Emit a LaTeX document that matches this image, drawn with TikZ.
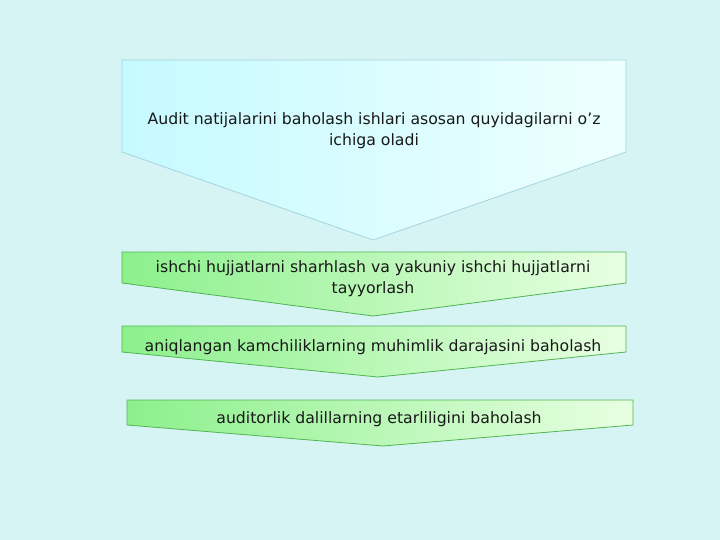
\documentclass[tikz,border=0pt]{standalone}
\usepackage{fontspec}
\setmainfont{DejaVu Sans}
\definecolor{bgcyan}{RGB}{214,244,244}
\definecolor{cyanleft}{RGB}{198,250,255}
\definecolor{cyanright}{RGB}{238,255,255}
\definecolor{cyanline}{RGB}{165,212,222}
\definecolor{greenleft}{RGB}{140,240,140}
\definecolor{greenright}{RGB}{232,255,226}
\definecolor{greenline}{RGB}{80,180,80}

\tikzset{%
  % Specifications for style of the arrow boxes:
        headbox/.style = {left color=cyanleft, right color=cyanright, draw=cyanline, line width=0.8pt},
        stepbox/.style = {left color=greenleft, right color=greenright, draw=greenline, line width=0.8pt},
       steptext/.style = {font=\fontsize{15.7}{21}\selectfont, text=black!90, align=center, inner sep=0pt},
}

\begin{document}
\begin{tikzpicture}[x=1pt, y=-1pt]
    % Background
    \fill[bgcyan] (0,0) rectangle (720,540);
    \useasboundingbox (0,0) rectangle (720,540);

    % Draw arrow boxes
    \shadedraw[headbox] (122,60) -- (626,60) -- (626,152) -- (373,240) -- (122,152) -- cycle;
    \shadedraw[stepbox] (122,252) -- (626,252) -- (626,283) -- (373,316) -- (122,283) -- cycle;
    \shadedraw[stepbox] (122,326) -- (626,326) -- (626,352) -- (378,377) -- (122,352) -- cycle;
    \shadedraw[stepbox] (127,400) -- (633,400) -- (633,425) -- (383,446) -- (127,425) -- cycle;

    % Draw texts
    \node (head)  [steptext] at (374,131) {Audit natijalarini baholash ishlari asosan quyidagilarni o’z\\ichiga oladi};
    \node (first) [steptext] at (373,279) {ishchi hujjatlarni sharhlash va yakuniy ishchi hujjatlarni\\tayyorlash};
    \node (second)[steptext] at (373,347) {aniqlangan kamchiliklarning muhimlik darajasini baholash};
    \node (third) [steptext] at (379,419) {auditorlik dalillarning etarliligini baholash};
\end{tikzpicture}
\end{document}
